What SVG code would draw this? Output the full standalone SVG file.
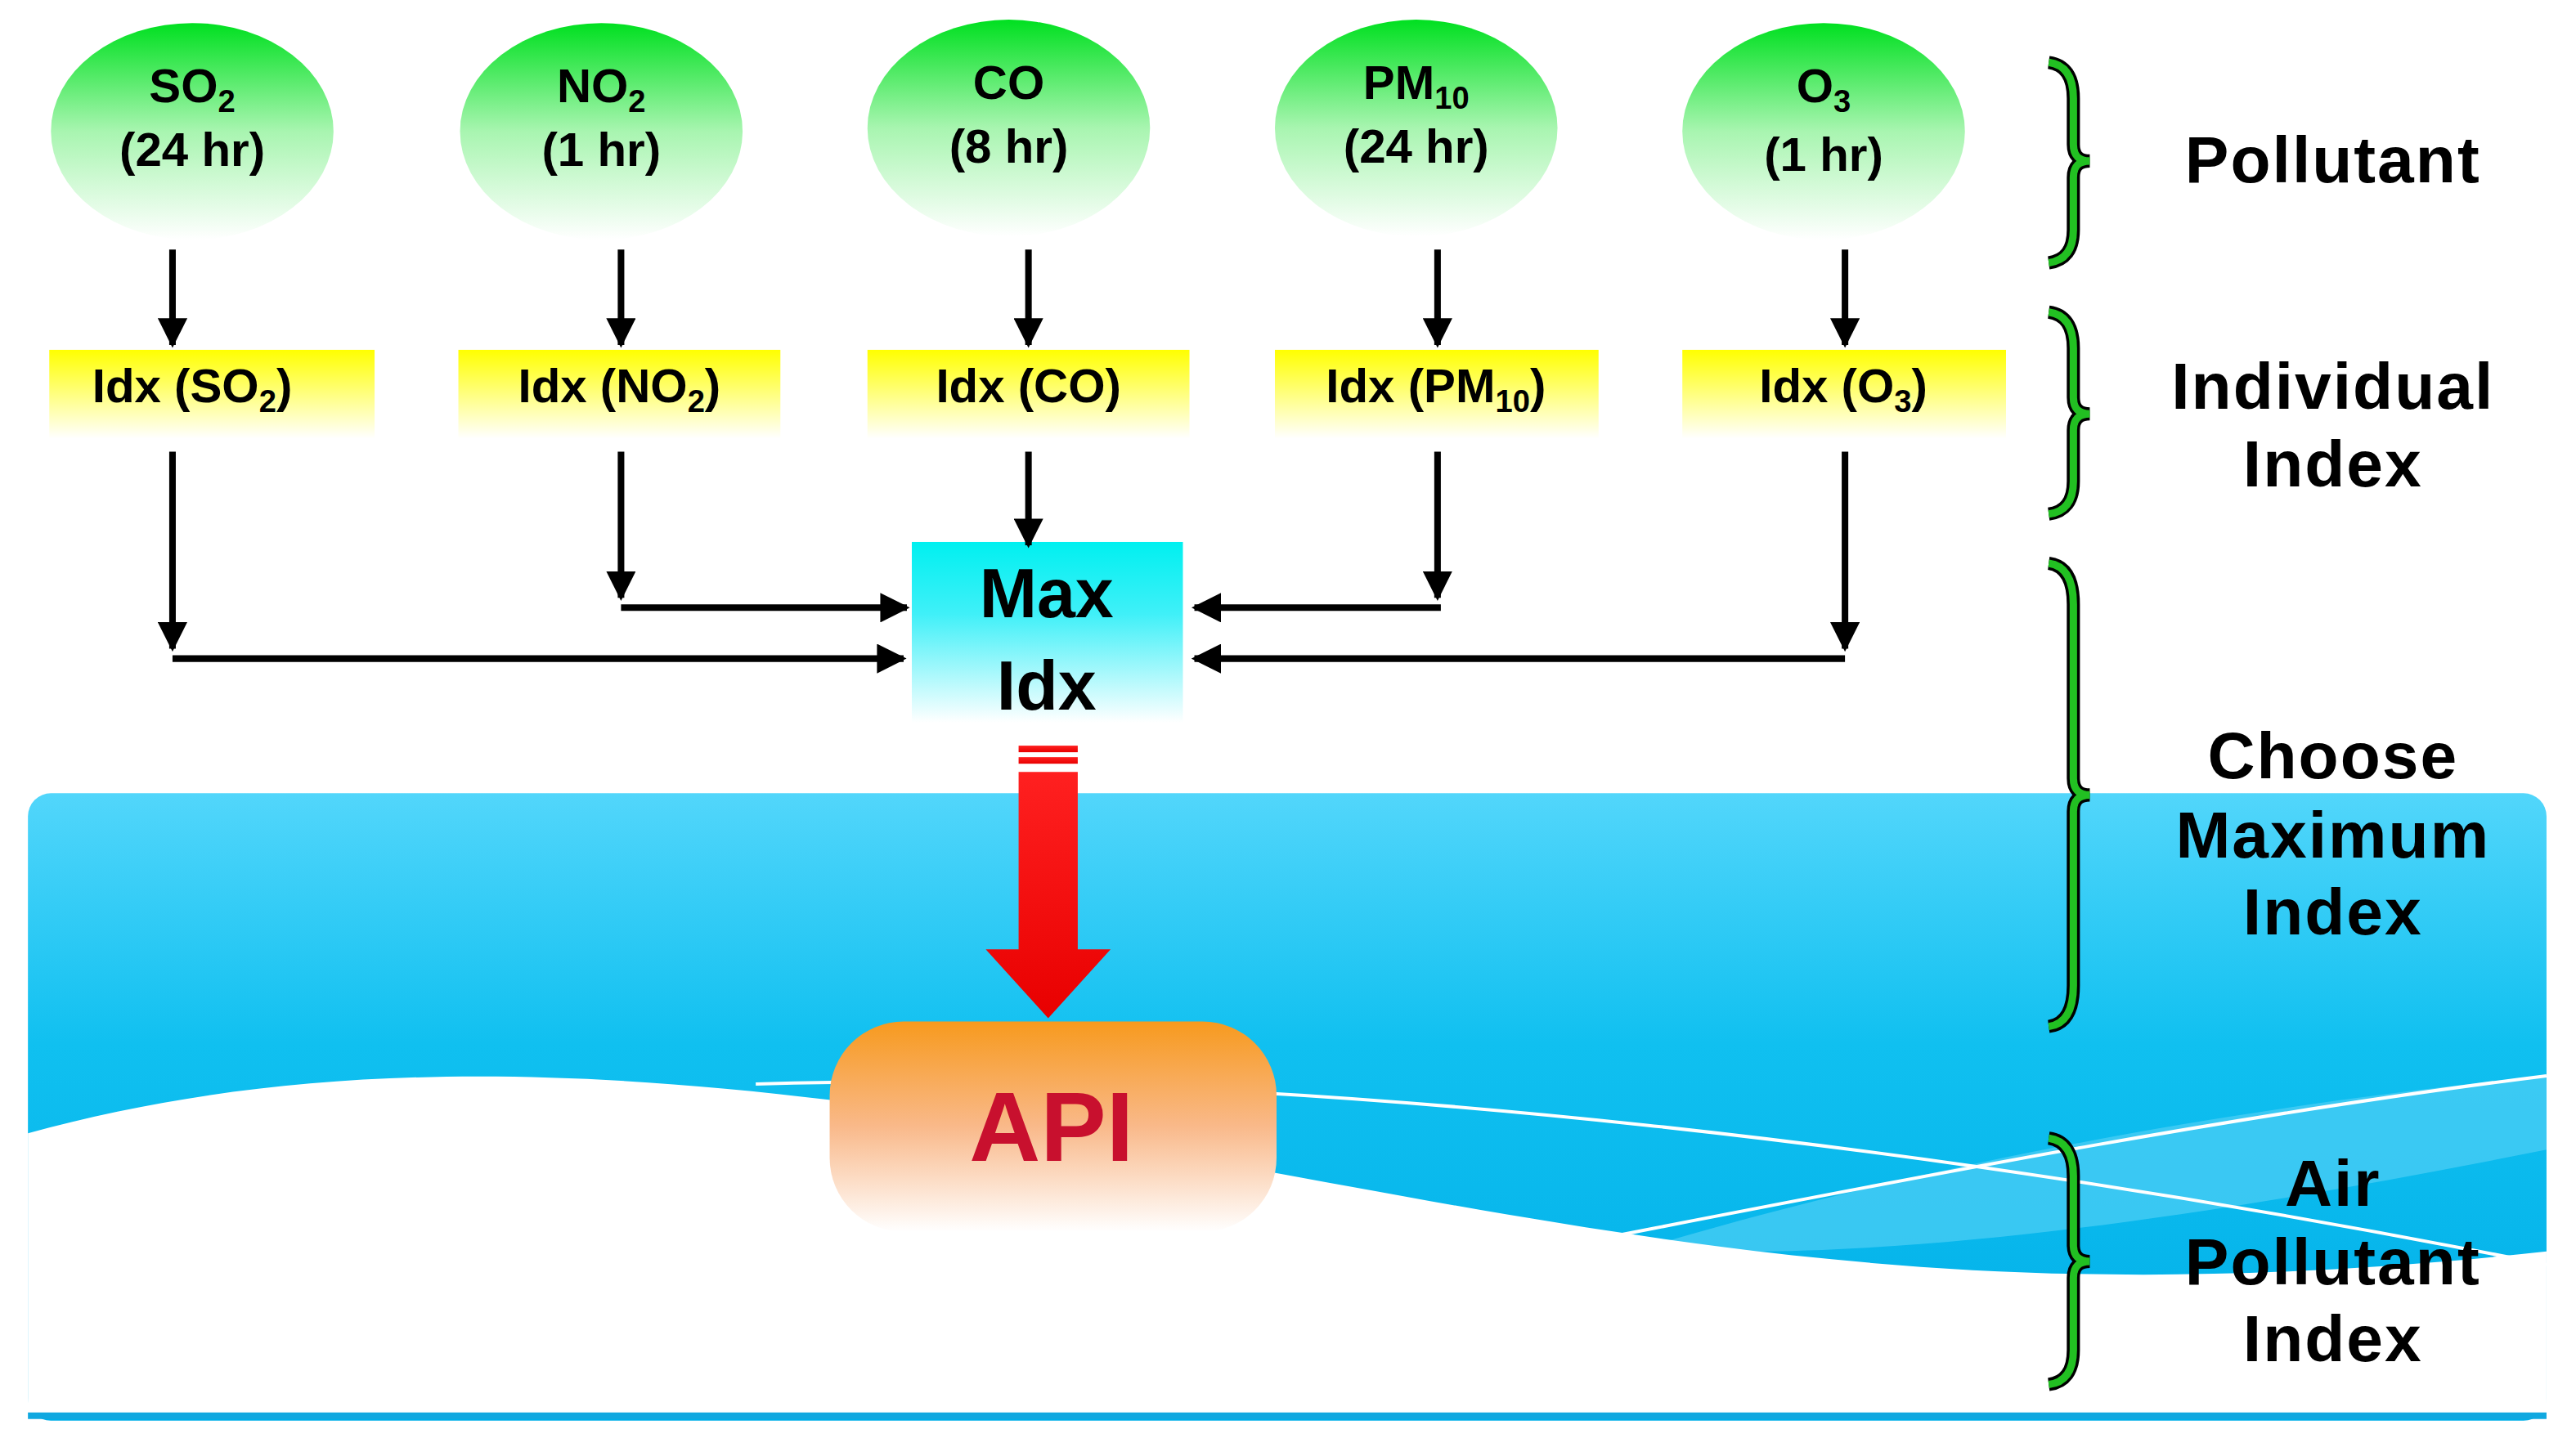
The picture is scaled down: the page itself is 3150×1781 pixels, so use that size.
<svg xmlns="http://www.w3.org/2000/svg" width="3150" height="1781" viewBox="0 0 3150 1781">
<defs>
<linearGradient id="gG" x1="0" y1="0" x2="0" y2="1"><stop offset="0" stop-color="#00e020"/><stop offset="0.5" stop-color="#a8f5b0"/><stop offset="1" stop-color="#ffffff"/></linearGradient>
<linearGradient id="gY" x1="0" y1="0" x2="0" y2="1"><stop offset="0" stop-color="#ffff00"/><stop offset="1" stop-color="#ffffff"/></linearGradient>
<linearGradient id="gC" x1="0" y1="0" x2="0" y2="1"><stop offset="0" stop-color="#00f0f0"/><stop offset="0.4" stop-color="#40f0f8"/><stop offset="1" stop-color="#ffffff"/></linearGradient>
<linearGradient id="gB" x1="0" y1="0" x2="0" y2="1"><stop offset="0" stop-color="#52d6fb"/><stop offset="0.4" stop-color="#10c0f0"/><stop offset="1" stop-color="#00aee8"/></linearGradient>
<linearGradient id="gO" x1="0" y1="0" x2="0" y2="1"><stop offset="0" stop-color="#f79a1e"/><stop offset="0.5" stop-color="#f9b98a"/><stop offset="1" stop-color="#ffffff"/></linearGradient>
<linearGradient id="gR" x1="0" y1="0" x2="0" y2="1"><stop offset="0" stop-color="#ff2020"/><stop offset="1" stop-color="#e80000"/></linearGradient>
<marker id="ah" viewBox="0 0 10 10" refX="9" refY="5" markerWidth="4.5" markerHeight="4.5" orient="auto-start-reverse"><path d="M0,0 L10,5 L0,10 Z" fill="#000"/></marker>
<style>
text{font-family:"Liberation Sans",Arial,sans-serif;font-weight:bold;fill:#000;text-anchor:middle}
.t{font-size:29px}
.l{font-size:40px;letter-spacing:1px}
.c{stroke:#000;stroke-width:4;fill:none}
.br{fill:none;stroke:#000;stroke-width:8}
.bg{fill:none;stroke:#22c022;stroke-width:4.5}
</style>
</defs>
<g transform="scale(2.009)">
<rect width="1568" height="887" fill="#fff"/>
<g id="background">
<rect x="17" y="483" width="1533" height="382" rx="14" fill="url(#gB)"/>
<path d="M1000,760 C1200,700 1400,670 1550,655 L1550,700 C1350,740 1150,770 1000,760 Z" fill="#4fcff5" opacity="0.7"/>
<path d="M17,690 C200,640 400,645 700,700 S1200,800 1550,762 L1550,862 L17,862 Z" fill="#fff"/>
<path d="M460,660 C800,650 1200,700 1550,770" stroke="#fff" stroke-width="2" fill="none"/>
<path d="M970,755 C1150,720 1350,680 1550,655" stroke="#fff" stroke-width="2" fill="none"/>
<line x1="17" y1="862" x2="1550" y2="862" stroke="#10a8e0" stroke-width="4"/>
</g>
<g id="pollutants">
<g id="n-so2"><ellipse cx="117" cy="80" rx="86" ry="66" fill="url(#gG)"/><text class="t" x="117" y="62">SO<tspan font-size="19" dy="6">2</tspan></text><text class="t" x="117" y="101">(24 hr)</text></g>
<g id="n-no2"><ellipse cx="366" cy="80" rx="86" ry="66" fill="url(#gG)"/><text class="t" x="366" y="62">NO<tspan font-size="19" dy="6">2</tspan></text><text class="t" x="366" y="101">(1 hr)</text></g>
<g id="n-co"><ellipse cx="614" cy="78" rx="86" ry="66" fill="url(#gG)"/><text class="t" x="614" y="60">CO</text><text class="t" x="614" y="99">(8 hr)</text></g>
<g id="n-pm10"><ellipse cx="862" cy="78" rx="86" ry="66" fill="url(#gG)"/><text class="t" x="862" y="60">PM<tspan font-size="19" dy="6">10</tspan></text><text class="t" x="862" y="99">(24 hr)</text></g>
<g id="n-o3"><ellipse cx="1110" cy="80" rx="86" ry="66" fill="url(#gG)"/><text class="t" x="1110" y="62">O<tspan font-size="19" dy="6">3</tspan></text><text class="t" x="1110" y="104">(1 hr)</text></g>
</g>
<g id="indices">
<g id="i-so2"><rect x="30" y="213" width="198" height="54" fill="url(#gY)"/><text class="t" x="117" y="245">Idx (SO<tspan font-size="19" dy="6">2</tspan><tspan dy="-6">)</tspan></text></g>
<g id="i-no2"><rect x="279" y="213" width="196" height="54" fill="url(#gY)"/><text class="t" x="377" y="245">Idx (NO<tspan font-size="19" dy="6">2</tspan><tspan dy="-6">)</tspan></text></g>
<g id="i-co"><rect x="528" y="213" width="196" height="54" fill="url(#gY)"/><text class="t" x="626" y="245">Idx (CO)</text></g>
<g id="i-pm10"><rect x="776" y="213" width="197" height="54" fill="url(#gY)"/><text class="t" x="874" y="245">Idx (PM<tspan font-size="19" dy="6">10</tspan><tspan dy="-6">)</tspan></text></g>
<g id="i-o3"><rect x="1024" y="213" width="197" height="54" fill="url(#gY)"/><text class="t" x="1122" y="245">Idx (O<tspan font-size="19" dy="6">3</tspan><tspan dy="-6">)</tspan></text></g>
</g>
<g id="max"><rect x="555" y="330" width="165" height="110" fill="url(#gC)"/><text x="637" y="376" font-size="42">Max</text><text x="637" y="432" font-size="42">Idx</text></g>
<g id="api"><rect x="505" y="622" width="272" height="128" rx="45" fill="url(#gO)"/><text x="640" y="707" font-size="60" style="fill:#c8102e">API</text></g>
<g id="connectors">
<line class="c" x1="105" y1="152" x2="105" y2="210" marker-end="url(#ah)"/>
<line class="c" x1="378" y1="152" x2="378" y2="210" marker-end="url(#ah)"/>
<line class="c" x1="626" y1="152" x2="626" y2="210" marker-end="url(#ah)"/>
<line class="c" x1="875" y1="152" x2="875" y2="210" marker-end="url(#ah)"/>
<line class="c" x1="1123" y1="152" x2="1123" y2="210" marker-end="url(#ah)"/>
<line class="c" x1="105" y1="275" x2="105" y2="395" marker-end="url(#ah)"/>
<line class="c" x1="105" y1="401" x2="550" y2="401" marker-end="url(#ah)"/>
<line class="c" x1="378" y1="275" x2="378" y2="364" marker-end="url(#ah)"/>
<line class="c" x1="378" y1="370" x2="552" y2="370" marker-end="url(#ah)"/>
<line class="c" x1="626" y1="275" x2="626" y2="332" marker-end="url(#ah)"/>
<line class="c" x1="875" y1="275" x2="875" y2="364" marker-end="url(#ah)"/>
<line class="c" x1="877" y1="370" x2="727" y2="370" marker-end="url(#ah)"/>
<line class="c" x1="1123" y1="275" x2="1123" y2="395" marker-end="url(#ah)"/>
<line class="c" x1="1123" y1="401" x2="727" y2="401" marker-end="url(#ah)"/>
<g id="red-arrow" fill="url(#gR)">
<rect x="620" y="454" width="36" height="4"/><rect x="620" y="461" width="36" height="4"/>
<path d="M620,470 L656,470 L656,578 L676,578 L638,620 L600,578 L620,578 Z"/>
</g>
</g>
<g id="braces">
<path class="br" d="M1247,38 Q1262,40 1262,60 L1262,88 Q1262,98 1272,98 Q1262,98 1262,108 L1262,140 Q1262,158 1247,160"/>
<path class="bg" d="M1247,38 Q1262,40 1262,60 L1262,88 Q1262,98 1272,98 Q1262,98 1262,108 L1262,140 Q1262,158 1247,160"/>
<path class="br" d="M1247,190 Q1262,192 1262,212 L1262,242 Q1262,252 1272,252 Q1262,252 1262,262 L1262,293 Q1262,311 1247,313"/>
<path class="bg" d="M1247,190 Q1262,192 1262,212 L1262,242 Q1262,252 1272,252 Q1262,252 1262,262 L1262,293 Q1262,311 1247,313"/>
<path class="br" d="M1247,343 Q1262,345 1262,368 L1262,474 Q1262,484 1272,484 Q1262,484 1262,494 L1262,600 Q1262,623 1247,625"/>
<path class="bg" d="M1247,343 Q1262,345 1262,368 L1262,474 Q1262,484 1272,484 Q1262,484 1262,494 L1262,600 Q1262,623 1247,625"/>
<path class="br" d="M1247,693 Q1262,695 1262,716 L1262,758 Q1262,768 1272,768 Q1262,768 1262,778 L1262,822 Q1262,841 1247,843"/>
<path class="bg" d="M1247,693 Q1262,695 1262,716 L1262,758 Q1262,768 1272,768 Q1262,768 1262,778 L1262,822 Q1262,841 1247,843"/>
</g>
<g id="labels">
<text class="l" x="1420" y="111">Pollutant</text>
<text class="l" x="1420" y="249">Individual</text><text class="l" x="1420" y="296">Index</text>
<text class="l" x="1420" y="474">Choose</text><text class="l" x="1420" y="522">Maximum</text><text class="l" x="1420" y="569">Index</text>
<text class="l" x="1420" y="734">Air</text><text class="l" x="1420" y="782">Pollutant</text><text class="l" x="1420" y="829">Index</text>
</g>
</g>
</svg>
